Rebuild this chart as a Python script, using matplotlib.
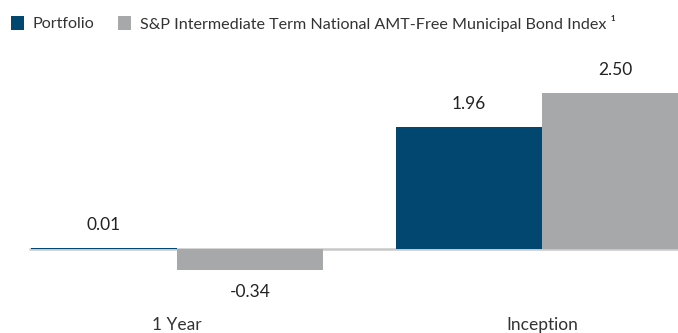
import matplotlib
matplotlib.use("Agg")
import matplotlib.pyplot as plt
from matplotlib.patches import Rectangle
import numpy as np

plt.rcParams['font.family'] = ['Lato', 'DejaVu Sans']

categories = ["1 Year", "Inception"]
series_names = ["Portfolio", "S&P Intermediate Term National AMT-Free Municipal Bond Index \u00b9"]
portfolio = [0.01, 1.96]
benchmark = [-0.34, 2.50]
value_labels = [["0.01", "1.96"], ["-0.34", "2.50"]]

NAVY = "#01476f"
GRAY = "#a7a8aa"
TEXT = "#222222"

W, H, DPI = 678, 333, 100
fig = plt.figure(figsize=(W / DPI, H / DPI), dpi=DPI)
ax = fig.add_axes([0, 0, 1, 1])

x = np.arange(len(categories))
bw = 0.4
series = [portfolio, benchmark]
colors = [NAVY, GRAY]
offsets = [-bw / 2, bw / 2]

for vals, col, off, labs in zip(series, colors, offsets, value_labels):
    bars = ax.bar(x + off, vals, width=bw, color=col, linewidth=0, zorder=2)
    for b, v, lab in zip(bars, vals, labs):
        y = b.get_height() if v >= 0 else v
        dy = 16.5 if v >= 0 else -15.5
        ax.annotate(lab, (b.get_x() + b.get_width() / 2, y), xytext=(0, dy),
                    textcoords="offset points", ha="center", va="center",
                    fontsize=12.5, color=TEXT)

# zero line
ax.plot([-0.405, 1.6], [0, 0], color="#c8c8c8", lw=1.8, zorder=1, solid_capstyle="butt")

# category labels, baseline sitting just above the lower edge
for xi, cat in zip(x, categories):
    ax.text(xi, -1.30, cat, ha="center", va="baseline", fontsize=12.5, color="#333333")

ax.set_xlim(-0.485, 1.3726)
ax.set_ylim(-1.348, 3.997)
ax.axis("off")

# legend: colour swatch + series name, laid out in pixels from the top-left corner
swatch_x = [11, 118]
text_x = [33, 140]
for sx, tx, col, name in zip(swatch_x, text_x, colors, series_names):
    fig.patches.append(Rectangle((sx / W, 1 - 30 / H), 13 / W, 14 / H,
                                 transform=fig.transFigure, facecolor=col,
                                 edgecolor="none"))
    fig.text(tx / W, 1 - 23.5 / H, name, ha="left", va="center",
             fontsize=11.6, color="#333333")

# unit caption above the plot area
fig.text(0.497, 1.0 + 11 / H, "(%)", ha="center", va="center", fontsize=14,
         color="#1a6fb0", fontweight="bold")

fig.savefig("out.png", dpi=DPI)
